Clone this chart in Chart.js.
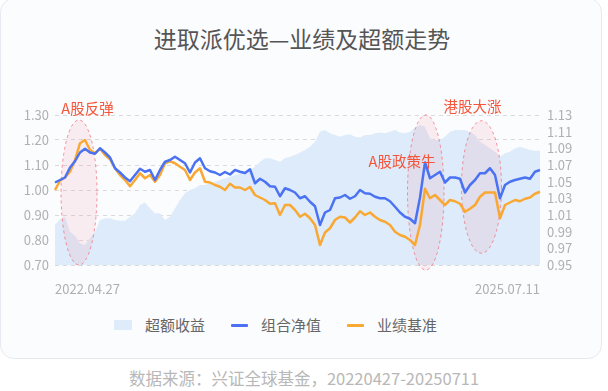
<!DOCTYPE html>
<html>
<head>
<meta charset="utf-8">
<script src="https://cdn.jsdelivr.net/npm/chart.js@4.4.1/dist/chart.umd.min.js"></script>
<style>
  html, body { margin: 0; padding: 0; background: #fff; }
  body { width: 608px; height: 391px; position: relative; overflow: hidden; font-family: "Noto Sans CJK SC", "Noto Sans", sans-serif; }
  .card { position: absolute; left: 0; top: -2px; width: 600px; height: 359px; border: 1px solid #e6e9f0; border-radius: 14px; background: #fbfcfe; }
  .title { position: absolute; left: 0; width: 604px; top: 25px; text-align: center; font-size: 23px; line-height: 26px; color: #555; font-weight: 400; }
  #chart { position: absolute; left: 0; top: 0; }
  .legend { position: absolute; left: 114px; top: 314px; display: flex; align-items: center; font-size: 15px; color: #666; line-height: 22px; }
  .legend .item { display: flex; align-items: center; margin-right: 26px; }
  .legend .box { width: 18px; height: 10px; margin-right: 13px; }
  .legend .line { width: 17px; height: 3px; border-radius: 1px; margin-right: 13px; }
  .source { position: absolute; left: 0; width: 608px; top: 367px; text-align: center; font-size: 16.5px; line-height: 22px; color: #b8b8b8; }
</style>
</head>
<body>
<div class="card"></div>
<div class="title">进取派优选—业绩及超额走势</div>
<canvas id="chart" width="608" height="300"></canvas>
<div class="legend">
  <div class="item"><span class="box" style="background:#deebfa"></span>超额收益</div>
  <div class="item"><span class="line" style="background:#4a72f2"></span>组合净值</div>
  <div class="item"><span class="line" style="background:#f8a833"></span>业绩基准</div>
</div>
<div class="source">数据来源：兴证全球基金，20220427-20250711</div>
<script>
const startDate = '2022.04.27';
const endDate = '2025.07.11';

// 组合净值 (left axis)
const navValues = [
  1.030, 1.040, 1.050, 1.090, 1.115, 1.150, 1.165, 1.150, 1.145, 1.167,
  1.150, 1.130, 1.087, 1.070, 1.050, 1.035, 1.060, 1.085, 1.073, 1.080,
  1.040, 1.080, 1.113, 1.120, 1.133, 1.120, 1.107, 1.070, 1.110, 1.127,
  1.087, 1.075, 1.070, 1.060, 1.072, 1.062, 1.080, 1.073, 1.068, 1.083,
  1.027, 1.045, 1.033, 1.015, 1.013, 0.975, 1.007, 1.000, 0.990, 0.967,
  0.975, 0.953, 0.935, 0.860, 0.910, 0.920, 0.967, 0.970, 0.980, 0.965,
  0.975, 1.000, 0.987, 0.985, 0.973, 0.967, 0.967, 0.955, 0.933, 0.910,
  0.893, 0.885, 0.867, 0.970, 1.110, 1.047, 1.060, 1.073, 1.030, 1.050,
  1.050, 1.045, 0.990, 1.020, 1.040, 1.067, 1.067, 1.087, 1.060, 0.967,
  1.020, 1.033, 1.040, 1.045, 1.050, 1.045, 1.073, 1.080
];

// 业绩基准 (left axis)
const benchValues = [
  1.000, 1.037, 1.050, 1.073, 1.120, 1.187, 1.200, 1.160, 1.147, 1.165,
  1.140, 1.123, 1.087, 1.060, 1.040, 1.015, 1.040, 1.067, 1.047, 1.060,
  1.033, 1.060, 1.107, 1.115, 1.107, 1.093, 1.080, 1.040, 1.070, 1.087,
  1.033, 1.030, 1.020, 1.013, 1.000, 1.025, 1.010, 1.010, 1.000, 1.012,
  0.980, 0.970, 0.960, 0.945, 0.947, 0.900, 0.940, 0.940, 0.920, 0.893,
  0.905, 0.887, 0.860, 0.780, 0.830, 0.847, 0.880, 0.893, 0.890, 0.870,
  0.890, 0.915, 0.900, 0.910, 0.893, 0.880, 0.873, 0.860, 0.833, 0.820,
  0.813, 0.800, 0.780, 0.860, 1.005, 0.967, 0.980, 0.960, 0.940, 0.960,
  0.955, 0.945, 0.913, 0.925, 0.940, 0.973, 0.990, 0.990, 0.990, 0.887,
  0.940, 0.950, 0.960, 0.955, 0.965, 0.970, 0.985, 0.993
];

// 超额收益 (right axis)
const excessValues = [
  0.998, 1.005, 1.008, 0.990, 0.985, 0.976, 0.974, 0.982, 0.990, 1.004,
  1.006, 1.006, 1.004, 1.003, 1.003, 1.008, 1.012, 1.022, 1.025, 1.018,
  1.012, 1.012, 1.004, 1.008, 1.018, 1.028, 1.036, 1.040, 1.042, 1.046,
  1.046, 1.048, 1.050, 1.052, 1.054, 1.056, 1.058, 1.060, 1.062, 1.064,
  1.068, 1.074, 1.078, 1.078, 1.076, 1.074, 1.078, 1.080, 1.082, 1.085,
  1.088, 1.092, 1.098, 1.110, 1.112, 1.108, 1.106, 1.104, 1.106, 1.107,
  1.104, 1.103, 1.106, 1.106, 1.108, 1.109, 1.108, 1.110, 1.112, 1.109,
  1.108, 1.110, 1.115, 1.118, 1.116, 1.102, 1.100, 1.100, 1.104, 1.110,
  1.112, 1.112, 1.112, 1.110, 1.106, 1.098, 1.094, 1.090, 1.086, 1.080,
  1.084, 1.086, 1.090, 1.092, 1.090, 1.088, 1.087, 1.087
];

const leftTicks = { min: 0.70, max: 1.30, step: 0.10 };
const rightTicks = { min: 0.95, max: 1.13, step: 0.02 };

const labels = navValues.map((_, i) => i === 0 ? startDate : (i === navValues.length - 1 ? endDate : ''));

// highlighted periods: index range and value range on the left axis
const highlights = [
  { text: 'A股反弹', x0: 1.2, x1: 8.4, y0: 0.70, y1: 1.28, labelX: 6.5, labelY: 1.328 },
  { text: 'A股政策牛', x0: 70.5, x1: 77.8, y0: 0.68, y1: 1.30, labelX: 69.4, labelY: 1.116 },
  { text: '港股大涨', x0: 81.3, x1: 89.3, y0: 0.747, y1: 1.277, labelX: 83.5, labelY: 1.336 }
];

const highlightPlugin = {
  id: 'highlights',
  afterDatasetDraw(chart, args) {
    if (args.index !== 0) return;
    const x = chart.scales.x, y = chart.scales.y;
    const ctx = chart.ctx;
    ctx.save();
    highlights.forEach(h => {
      const l = x.getPixelForValue(h.x0), r = x.getPixelForValue(h.x1);
      const t = y.getPixelForValue(h.y1), b = y.getPixelForValue(h.y0);
      ctx.beginPath();
      ctx.ellipse((l + r) / 2, (t + b) / 2, (r - l) / 2, (b - t) / 2, 0, 0, Math.PI * 2);
      ctx.fillStyle = 'rgba(238, 120, 140, 0.12)';
      ctx.fill();
      ctx.setLineDash([3, 3]);
      ctx.lineWidth = 1;
      ctx.strokeStyle = 'rgba(240, 110, 120, 0.75)';
      ctx.stroke();
    });
    ctx.restore();
  },
  afterDraw(chart) {
    const x = chart.scales.x, y = chart.scales.y;
    const ctx = chart.ctx;
    ctx.save();
    ctx.font = '14.5px "Noto Sans CJK SC", sans-serif';
    ctx.fillStyle = '#f5553a';
    ctx.textAlign = 'center';
    ctx.textBaseline = 'middle';
    highlights.forEach(h => {
      ctx.fillText(h.text, x.getPixelForValue(h.labelX), y.getPixelForValue(h.labelY));
    });
    ctx.restore();
  }
};

const tickFont = { family: '"Noto Sans CJK SC", sans-serif', size: 13 };

new Chart(document.getElementById('chart'), {
  type: 'line',
  data: {
    labels: labels,
    datasets: [
      {
        label: '超额收益',
        data: excessValues,
        yAxisID: 'y1',
        fill: 'start',
        backgroundColor: '#deebfa',
        borderWidth: 0,
        borderColor: 'rgba(0,0,0,0)',
        tension: 0,
        order: 3
      },
      {
        label: '组合净值',
        data: navValues,
        yAxisID: 'y',
        borderColor: '#4a72f2',
        borderWidth: 2.5,
        fill: false,
        order: 1
      },
      {
        label: '业绩基准',
        data: benchValues,
        yAxisID: 'y',
        borderColor: '#f8a833',
        borderWidth: 2.5,
        fill: false,
        order: 2
      }
    ]
  },
  options: {
    responsive: false,
    animation: false,
    layout: { padding: { top: 115, left: 0, right: 0, bottom: 0 } },
    elements: { point: { radius: 0 }, line: { borderJoinStyle: 'round' } },
    plugins: {
      legend: { display: false },
      tooltip: { enabled: false }
    },
    scales: {
      x: {
        grid: { display: false, drawTicks: false },
        border: { display: false },
        ticks: {
          autoSkip: false,
          maxRotation: 0,
          align: 'inner',
          padding: 16,
          color: '#b0b0b0',
          font: tickFont
        },
        afterFit: s => { s.height = 35; }
      },
      y: {
        position: 'left',
        min: leftTicks.min,
        max: leftTicks.max,
        ticks: {
          stepSize: leftTicks.step,
          autoSkip: false,
          padding: 6,
          color: '#b0b0b0',
          font: tickFont,
          callback: v => v.toFixed(2)
        },
        grid: { color: '#dadada', drawTicks: false, lineWidth: 1 },
        border: { display: false, dash: [4, 4] },
        afterFit: s => { s.width = 55; }
      },
      y1: {
        position: 'right',
        min: rightTicks.min,
        max: rightTicks.max,
        ticks: {
          stepSize: rightTicks.step,
          autoSkip: false,
          padding: 7,
          color: '#b0b0b0',
          font: tickFont,
          callback: v => v.toFixed(2)
        },
        grid: { display: false, drawTicks: false },
        border: { display: false },
        afterFit: s => { s.width = 68; }
      }
    }
  },
  plugins: [highlightPlugin]
});
</script>
</body>
</html>
